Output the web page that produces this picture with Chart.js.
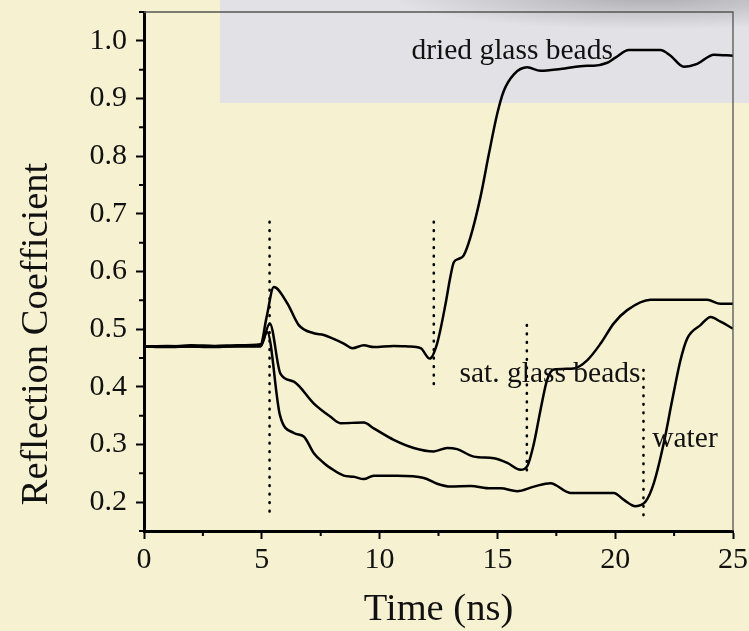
<!DOCTYPE html>
<html>
<head>
<meta charset="utf-8">
<script src="https://cdn.jsdelivr.net/npm/chart.js@4.4.1/dist/chart.umd.min.js"></script>
<style>
  html, body { margin: 0; padding: 0; background: #f6f1d1; }
  canvas { display: block; }
</style>
</head>
<body>
<canvas id="chart" width="749" height="631"></canvas>
<script>
// values: time (ns) / reflection coefficient
const driedTime = [0, 1, 2, 3, 4, 4.95, 5.2, 5.51, 6.08, 6.57, 7.21, 7.63, 8.0, 8.48, 8.84, 9.33, 9.75, 10.6, 11.2, 11.74, 12.13, 12.44, 12.8, 13.0, 13.15, 13.36, 13.57, 13.86, 14.28, 14.64, 14.99, 15.27, 15.7, 16.27, 16.83, 17.68, 18.81, 19.09, 19.66, 20.01, 20.58, 21.92, 22.35, 22.91, 23.48, 24.19, 25];
const driedRefl = [0.47, 0.47, 0.472, 0.471, 0.472, 0.474, 0.52, 0.573, 0.545, 0.507, 0.493, 0.49, 0.484, 0.475, 0.467, 0.472, 0.469, 0.471, 0.47, 0.467, 0.449, 0.475, 0.544, 0.59, 0.616, 0.622, 0.628, 0.66, 0.729, 0.804, 0.873, 0.913, 0.942, 0.954, 0.948, 0.951, 0.957, 0.957, 0.962, 0.971, 0.984, 0.984, 0.974, 0.955, 0.96, 0.976, 0.974];

const satTime = [0, 1, 2, 3, 4, 4.95, 5.34, 5.79, 6.36, 7.21, 7.92, 8.34, 9.33, 9.75, 10.6, 11.45, 12.3, 12.87, 13.29, 14.0, 14.85, 15.42, 15.98, 16.26, 16.55, 16.83, 17.11, 17.39, 18.24, 18.81, 19.38, 19.94, 20.51, 21.5, 23.9, 24.47, 25];
const satRefl = [0.47, 0.469, 0.47, 0.47, 0.47, 0.472, 0.51, 0.423, 0.409, 0.371, 0.348, 0.337, 0.338, 0.328, 0.308, 0.294, 0.288, 0.294, 0.292, 0.279, 0.276, 0.268, 0.256, 0.262, 0.302, 0.36, 0.412, 0.43, 0.432, 0.446, 0.475, 0.51, 0.533, 0.551, 0.551, 0.544, 0.544];

const waterTime = [0, 1, 2, 3, 4, 4.95, 5.23, 5.77, 6.36, 6.78, 7.21, 7.63, 7.92, 8.48, 8.9, 9.33, 9.75, 10.75, 11.88, 12.44, 13.01, 13.86, 14.71, 15.13, 15.84, 16.55, 17.25, 18.1, 19.94, 20.37, 20.86, 21.29, 21.64, 22.06, 22.42, 22.77, 23.06, 23.62, 24.05, 24.47, 25];
const waterRefl = [0.47, 0.471, 0.47, 0.469, 0.471, 0.47, 0.495, 0.351, 0.32, 0.314, 0.285, 0.268, 0.259, 0.246, 0.244, 0.24, 0.246, 0.246, 0.242, 0.232, 0.227, 0.228, 0.224, 0.224, 0.219, 0.227, 0.233, 0.216, 0.216, 0.204, 0.193, 0.201, 0.233, 0.302, 0.377, 0.446, 0.484, 0.507, 0.521, 0.513, 0.501];

// dotted arrival markers
const markerTime = [5.33, 12.3, 16.25, 21.2];
const markerTop = [0.686, 0.686, 0.507, 0.429];
const markerBottom = [0.178, 0.403, 0.242, 0.165];

const xTicks = [0, 5, 10, 15, 20, 25];
const xMinor = [2.5, 7.5, 12.5, 17.5, 22.5];
const yTicks = [0.2, 0.3, 0.4, 0.5, 0.6, 0.7, 0.8, 0.9, 1.0];
const yMinor = [0.15, 0.25, 0.35, 0.45, 0.55, 0.65, 0.75, 0.85, 0.95, 1.05];

const curveNames = ['dried glass beads', 'sat. glass beads', 'water'];
const labelTime = [11.35, 13.39, 21.57];
const labelRefl = [0.969, 0.409, 0.296];

const serif = "'Liberation Serif', 'Times New Roman', serif";

function zip(t, r) {
    return t.map((x, i) => ({ x: x, y: r[i] }));
}

function curve(t, r) {
    return {
        data: zip(t, r),
        borderColor: '#000',
        borderWidth: 2.5,
        pointRadius: 0,
        fill: false,
        tension: 0.4,
        cubicInterpolationMode: 'monotone'
    };
}

const datasets = [
    curve(driedTime, driedRefl),
    curve(satTime, satRefl),
    curve(waterTime, waterRefl)
];
markerTime.forEach((t, i) => {
    datasets.push({
        data: [{ x: t, y: markerTop[i] }, { x: t, y: markerBottom[i] }],
        borderColor: '#000',
        borderWidth: 2.6,
        borderDash: [0.5, 8],
        borderCapStyle: 'round',
        pointRadius: 0,
        fill: false
    });
});

const backdrop = {
    id: 'backdrop',
    beforeDraw(chart) {
        const ctx = chart.ctx;
        ctx.save();
        ctx.fillStyle = '#f6f1d1';
        ctx.fillRect(0, 0, chart.width, chart.height);
        ctx.fillStyle = '#e1e1e6';
        ctx.fillRect(220, 0, chart.width - 220, 103);
        // soft shadow along the top edge of the grey panel
        ctx.beginPath();
        ctx.rect(220, 0, chart.width - 220, 103);
        ctx.clip();
        ctx.translate(650, -4);
        ctx.scale(1, 0.13);
        const g = ctx.createRadialGradient(0, 0, 0, 0, 0, 260);
        g.addColorStop(0, 'rgba(130,130,135,0.55)');
        g.addColorStop(1, 'rgba(130,130,135,0)');
        ctx.fillStyle = g;
        ctx.fillRect(-300, -300, 600, 600);
        ctx.restore();
    }
};

const decorations = {
    id: 'decorations',
    afterDraw(chart) {
        const ctx = chart.ctx;
        const a = chart.chartArea;
        const xs = chart.scales.x, ys = chart.scales.y;
        ctx.save();
        // thin frame on top and right
        ctx.strokeStyle = '#555';
        ctx.lineWidth = 1.3;
        ctx.beginPath();
        ctx.moveTo(a.left, a.top);
        ctx.lineTo(a.right, a.top);
        ctx.lineTo(a.right, a.bottom);
        ctx.stroke();
        // minor ticks
        ctx.strokeStyle = '#000';
        ctx.lineWidth = 2;
        ctx.beginPath();
        yMinor.forEach(v => {
            const p = ys.getPixelForValue(v);
            ctx.moveTo(a.left - 5, p);
            ctx.lineTo(a.left, p);
        });
        xMinor.forEach(v => {
            const p = xs.getPixelForValue(v);
            ctx.moveTo(p, a.bottom);
            ctx.lineTo(p, a.bottom + 5);
        });
        ctx.stroke();
        // curve names
        ctx.fillStyle = '#111';
        ctx.font = '29.5px ' + serif;
        ctx.textBaseline = 'alphabetic';
        ctx.textAlign = 'left';
        curveNames.forEach((s, i) => {
            ctx.fillText(s, xs.getPixelForValue(labelTime[i]), ys.getPixelForValue(labelRefl[i]));
        });
        // y axis title, sits a bit below the middle of the axis
        ctx.translate(37, 334);
        ctx.rotate(-Math.PI / 2);
        ctx.font = '38.5px ' + serif;
        ctx.textAlign = 'center';
        ctx.textBaseline = 'middle';
        ctx.fillText('Reflection Coefficient', 0, 0);
        ctx.restore();
    }
};

new Chart(document.getElementById('chart'), {
    type: 'line',
    data: { datasets: datasets },
    plugins: [backdrop, decorations],
    options: {
        responsive: false,
        animation: false,
        layout: { padding: { top: 12, right: 16, left: 0, bottom: 0 } },
        plugins: {
            legend: { display: false },
            tooltip: { enabled: false }
        },
        scales: {
            x: {
                type: 'linear',
                min: 0,
                max: 25,
                afterFit: s => { s.height = 100; s.paddingLeft = 0; s.paddingRight = 0; },
                afterBuildTicks: s => { s.ticks = xTicks.map(v => ({ value: v })); },
                border: { display: true, color: '#000', width: 3 },
                grid: { drawOnChartArea: false, drawTicks: true, tickLength: 8, tickColor: '#000', tickWidth: 2 },
                ticks: {
                    color: '#111',
                    padding: 3,
                    maxRotation: 0,
                    font: { family: serif, size: 30 },
                    callback: v => String(v)
                },
                title: {
                    display: true,
                    text: 'Time (ns)',
                    color: '#111',
                    padding: { top: 0, bottom: -2 },
                    font: { family: serif, size: 38.5 }
                }
            },
            y: {
                type: 'linear',
                min: 0.15,
                max: 1.05,
                afterFit: s => { s.width = 144; s.paddingTop = 0; s.paddingBottom = 0; },
                afterBuildTicks: s => { s.ticks = yTicks.map(v => ({ value: v })); },
                border: { display: true, color: '#000', width: 3 },
                grid: { drawOnChartArea: false, drawTicks: true, tickLength: 8, tickColor: '#000', tickWidth: 2 },
                ticks: {
                    color: '#111',
                    padding: 9,
                    font: { family: serif, size: 30 },
                    callback: v => v.toFixed(1)
                },
                title: { display: false }
            }
        }
    }
});
</script>
</body>
</html>
